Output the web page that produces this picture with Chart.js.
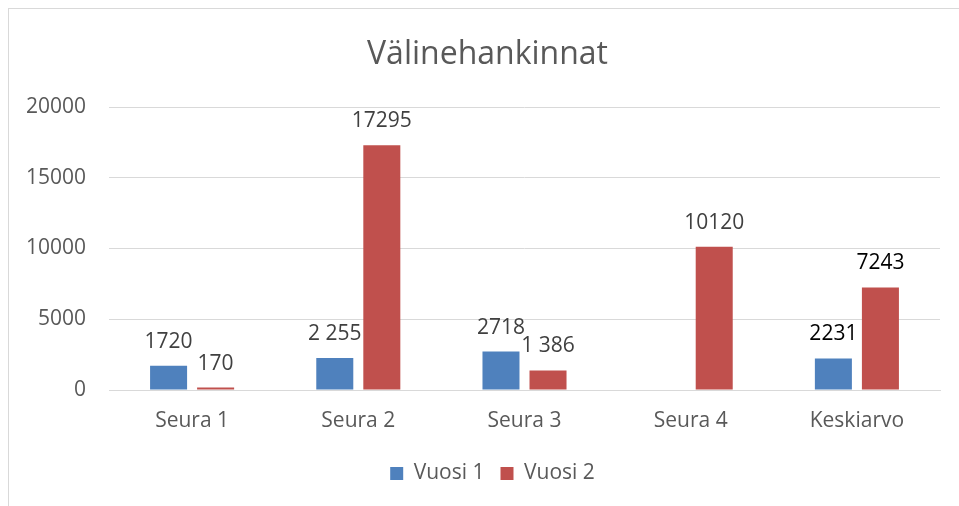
<!DOCTYPE html>
<html>
<head>
<meta charset="utf-8">
<script src="https://cdn.jsdelivr.net/npm/chart.js@4/dist/chart.umd.min.js"></script>
<style>
  html, body { margin: 0; padding: 0; background: #fff; }
  #wrap { position: absolute; left: 8px; top: 8px; width: 951px; height: 498px;
          border-left: 1px solid #d9d9d9; border-top: 1px solid #d9d9d9; overflow: hidden; }
  canvas { display: block; }
</style>
</head>
<body>
<div id="wrap"><canvas id="c" width="950" height="497"></canvas></div>
<script>
const categories = ["Seura 1", "Seura 2", "Seura 3", "Seura 4", "Keskiarvo"];
const seriesNames = ["Vuosi 1", "Vuosi 2"];
const vuosi1 = [1720, 2255, 2718, null, 2231];
const vuosi2 = [170, 17295, 1386, 10120, 7243];
const vuosi1Labels = ["1720", "2 255", "2718", "", "2231"];
const vuosi2Labels = ["170", "17295", "1 386", "10120", "7243"];
const labelColors = ["#404040", "#404040", "#404040", "#404040", "#000000"];
const yTicks = [0, 5000, 10000, 15000, 20000];

const FONT = "'Open Sans', 'Noto Sans', sans-serif";

const dataLabelPlugin = {
  id: 'dataLabels',
  afterDatasetsDraw(chart) {
    const ctx = chart.ctx;
    const allLabels = [vuosi1Labels, vuosi2Labels];
    ctx.save();
    ctx.font = "21px " + FONT;
    ctx.textAlign = 'center';
    ctx.textBaseline = 'middle';
    chart.data.datasets.forEach((ds, di) => {
      const meta = chart.getDatasetMeta(di);
      meta.data.forEach((bar, i) => {
        const txt = allLabels[di][i];
        if (!txt || ds.data[i] == null) return;
        ctx.fillStyle = labelColors[i];
        ctx.fillText(txt, bar.x, bar.y - 24);
      });
    });
    ctx.restore();
  }
};

// Nudge title and legend horizontally (reference centres them off the chart centre)
const shiftBoxesPlugin = {
  id: 'shiftBoxes',
  afterLayout(chart) {
    const shift = (box, dx) => { if (box) { box.left += dx; box.right += dx; } };
    shift(chart.titleBlock, 13);
    shift(chart.legend, 18);
  }
};

new Chart(document.getElementById('c'), {
  type: 'bar',
  data: {
    labels: categories,
    datasets: [
      { label: seriesNames[0], data: vuosi1, backgroundColor: '#4F81BD',
        categoryPercentage: 0.566, barPercentage: 0.787 },
      { label: seriesNames[1], data: vuosi2, backgroundColor: '#C0504D',
        categoryPercentage: 0.566, barPercentage: 0.787 }
    ]
  },
  options: {
    responsive: false,
    animation: false,
    devicePixelRatio: 1,
    layout: { padding: { left: 0, right: 19, top: 0, bottom: 12 } },
    plugins: {
      title: {
        display: true,
        text: 'Välinehankinnat',
        color: '#595959',
        font: { family: FONT, size: 32, weight: 'normal' },
        padding: { top: 27, bottom: 32.6 }
      },
      legend: {
        display: true,
        position: 'bottom',
        labels: {
          color: '#595959',
          font: { family: FONT, size: 21 },
          boxWidth: 13,
          boxHeight: 13,
          padding: 16
        }
      },
      tooltip: { enabled: false }
    },
    scales: {
      x: {
        grid: { display: false, drawTicks: false },
        border: { display: true, color: '#d9d9d9', width: 1 },
        ticks: { color: '#595959', font: { family: FONT, size: 21 }, padding: 18 },
        afterFit(s) { s.height = 57; }
      },
      y: {
        min: 0, max: 20000,
        afterBuildTicks(s) { s.ticks = yTicks.map(v => ({ value: v })); },
        grid: { color: '#d9d9d9', lineWidth: 1, drawTicks: false },
        border: { display: false },
        ticks: { color: '#595959', font: { family: FONT, size: 21 }, padding: 23,
                 callback: v => String(v) },
        afterFit(s) { s.width = 100; }
      }
    }
  },
  plugins: [dataLabelPlugin, shiftBoxesPlugin]
});
</script>
</body>
</html>
